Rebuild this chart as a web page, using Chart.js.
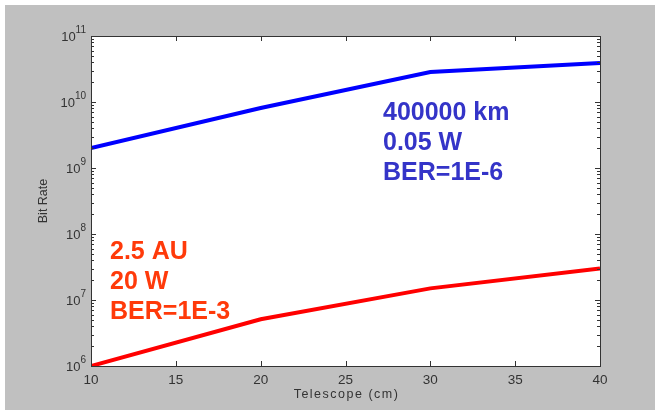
<!DOCTYPE html>
<html>
<head>
<meta charset="utf-8">
<script src="https://cdn.jsdelivr.net/npm/chart.js@4"></script>
<style>
  html, body { margin: 0; padding: 0; background: #fff; }
  #wrap { width: 655px; height: 410px; }
</style>
</head>
<body>
<div id="wrap"><canvas id="grafico" width="655" height="410"></canvas></div>
<script>
// dados
const telescopio = [10, 20, 30, 40];
const taxaLua = [2e9, 8.1e9, 2.85e10, 3.9e10];     // 400000 km
const taxaMarte = [1e6, 5.1e6, 1.5e7, 3e7];        // 2.5 AU
const rotulosLua = ['400000 km', '0.05 W', 'BER=1E-6'];
const rotulosMarte = ['2.5 AU', '20 W', 'BER=1E-3'];
const expoentes = [6, 7, 8, 9, 10, 11];
const ticksX = [10, 15, 20, 25, 30, 35, 40];
const tituloX = 'Telescope (cm)';
const tituloY = 'Bit Rate';

const corEixo = '#333333';
const fonteBase = '"Liberation Sans", Arial, sans-serif';

// fundo cinza, area branca, caixa com ticks para dentro e rotulos 10^n
const estiloMatlab = {
  id: 'estiloMatlab',
  beforeDraw(chart) {
    const c = chart.ctx, a = chart.chartArea;
    c.save();
    c.fillStyle = '#ffffff';
    c.fillRect(0, 0, chart.width, chart.height);
    c.fillStyle = '#c0c0c0';
    c.fillRect(5, 5, chart.width - 5, chart.height - 5);
    c.fillStyle = '#ffffff';
    c.fillRect(a.left, a.top, a.right - a.left, a.bottom - a.top);
    c.restore();
  },
  afterDraw(chart) {
    const c = chart.ctx, a = chart.chartArea;
    const sx = chart.scales.x, sy = chart.scales.y;
    c.save();
    c.strokeStyle = corEixo;
    c.lineWidth = 1;
    c.strokeRect(a.left + 0.5, a.top + 0.5, a.right - a.left, a.bottom - a.top);
    c.beginPath();
    // ticks do eixo x (baixo e cima)
    ticksX.forEach(v => {
      const px = Math.round(sx.getPixelForValue(v)) + 0.5;
      c.moveTo(px, a.bottom); c.lineTo(px, a.bottom - 5);
      c.moveTo(px, a.top); c.lineTo(px, a.top + 5);
    });
    // ticks do eixo y log (esquerda e direita)
    for (let e = expoentes[0]; e < expoentes[expoentes.length - 1]; e++) {
      for (let m = 1; m <= 9; m++) {
        const py = Math.round(sy.getPixelForValue(m * Math.pow(10, e))) + 0.5;
        const len = m === 1 ? 5 : 3;
        c.moveTo(a.left, py); c.lineTo(a.left + len, py);
        c.moveTo(a.right, py); c.lineTo(a.right - len, py);
      }
    }
    c.stroke();
    // rotulos 10^n
    c.fillStyle = corEixo;
    c.textBaseline = 'middle';
    expoentes.forEach(e => {
      const py = sy.getPixelForValue(Math.pow(10, e));
      c.font = '10px ' + fonteBase;
      const wExp = c.measureText(String(e)).width;
      const xFim = a.left - 5;
      c.textAlign = 'left';
      c.fillText(String(e), xFim - wExp, py - 6);
      c.font = '13px ' + fonteBase;
      c.textAlign = 'right';
      c.fillText('10', xFim - wExp, py + 1);
    });
    // titulos dos eixos
    c.textBaseline = 'alphabetic';
    c.textAlign = 'center';
    c.font = '12.5px ' + fonteBase;
    c.letterSpacing = '1.5px';
    c.fillText(tituloX, (a.left + a.right) / 2 + 1, 398);
    c.letterSpacing = '0px';
    c.save();
    c.translate(47, (a.top + a.bottom) / 2);
    c.rotate(-Math.PI / 2);
    c.fillText(tituloY, 0, 0);
    c.restore();
    // textos de anotacao
    c.font = 'bold 25px ' + fonteBase;
    c.textAlign = 'left';
    c.fillStyle = '#3434c8';
    rotulosLua.forEach((t, i) => c.fillText(t, 383, 120 + i * 30));
    c.fillStyle = '#ff3a0a';
    rotulosMarte.forEach((t, i) => c.fillText(t, 110, 259 + i * 30));
    c.restore();
  }
};

const ctx = document.getElementById('grafico').getContext('2d');

const grafico = new Chart(ctx, {
  type: 'line',
  data: {
    datasets: [
      {
        label: '400000 km',
        data: telescopio.map((t, i) => ({ x: t, y: taxaLua[i] })),
        borderColor: '#0000ff',
        borderWidth: 4,
        pointRadius: 0,
        tension: 0
      },
      {
        label: '2.5 AU',
        data: telescopio.map((t, i) => ({ x: t, y: taxaMarte[i] })),
        borderColor: '#ff0000',
        borderWidth: 4,
        pointRadius: 0,
        tension: 0
      }
    ]
  },
  options: {
    responsive: false,
    animation: false,
    layout: { padding: { top: 36, right: 55, left: 0, bottom: 0 } },
    plugins: {
      legend: { display: false },
      tooltip: { enabled: false }
    },
    scales: {
      x: {
        type: 'linear',
        min: 10,
        max: 40,
        afterFit: s => { s.height = 44; },
        afterBuildTicks: s => { s.ticks = ticksX.map(v => ({ value: v })); },
        grid: { display: false, drawTicks: false },
        border: { display: false },
        ticks: {
          color: corEixo,
          padding: 6,
          maxRotation: 0,
          font: { family: fonteBase, size: 13.5 }
        },
        title: { display: false }
      },
      y: {
        type: 'logarithmic',
        min: 1e6,
        max: 1e11,
        afterFit: s => { s.width = 91; },
        grid: { display: false, drawTicks: false },
        border: { display: false },
        ticks: { display: false },
        title: { display: false }
      }
    }
  },
  plugins: [estiloMatlab]
});
</script>
</body>
</html>
